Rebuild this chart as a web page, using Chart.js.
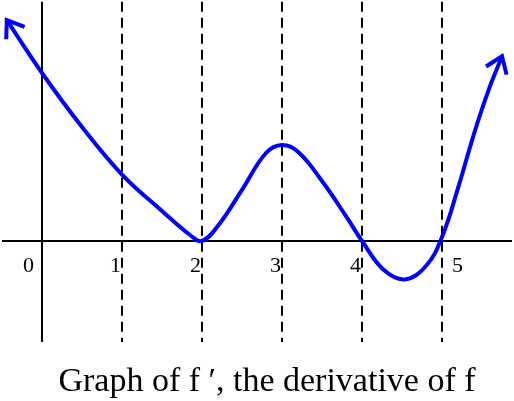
<!DOCTYPE html>
<html>
<head>
<meta charset="utf-8">
<script src="https://cdn.jsdelivr.net/npm/chart.js@4"></script>
<style>
html,body{margin:0;padding:0;background:#fff;}
#c{display:block;}
</style>
</head>
<body>
<canvas id="c" width="514" height="401" style="width:514px;height:401px"></canvas>
<script>
// ---- data ----
const xValues = [-0.44, 0, 0.5, 1.0, 1.5, 1.85, 2.0, 2.2, 2.5, 2.8, 3.0, 3.2, 3.5, 3.8, 4.0, 4.27, 4.54, 4.81, 5.0, 5.2, 5.4, 5.58, 5.75];
const fPrime  = [2.76, 2.10, 1.425, 0.83, 0.376, 0.075, 0, 0.19, 0.64, 1.10, 1.20, 1.115, 0.75, 0.31, 0, -0.36, -0.48, -0.30, 0.05, 0.66, 1.34, 1.88, 2.31];
const tickValues = [0, 1, 2, 3, 4, 5];
const tickLabels = ['0', '1', '2', '3', '4', '5'];
const dashedAt = [1, 2, 3, 4, 5];
const axisExtentX = [-0.5, 5.875];
const axisExtentY = [-1.2625, 2.99];
const caption = 'Graph of f \u2032, the derivative of f';

const points = xValues.map((x, i) => ({x: x, y: fPrime[i]}));

const axesPlugin = {
  id: 'axesPlugin',
  beforeDatasetsDraw(chart) {
    const ctx = chart.ctx, xs = chart.scales.x, ys = chart.scales.y;
    ctx.save();
    ctx.strokeStyle = '#000';
    ctx.lineWidth = 2;
    // x axis
    ctx.beginPath();
    ctx.moveTo(xs.getPixelForValue(axisExtentX[0]), ys.getPixelForValue(0));
    ctx.lineTo(xs.getPixelForValue(axisExtentX[1]), ys.getPixelForValue(0));
    ctx.stroke();
    // y axis
    ctx.beginPath();
    ctx.moveTo(xs.getPixelForValue(0), ys.getPixelForValue(axisExtentY[1]));
    ctx.lineTo(xs.getPixelForValue(0), ys.getPixelForValue(axisExtentY[0]));
    ctx.stroke();
    // dashed verticals
    ctx.setLineDash([10, 6]);
    dashedAt.forEach(v => {
      const px = Math.round(xs.getPixelForValue(v));
      ctx.beginPath();
      ctx.moveTo(px, ys.getPixelForValue(axisExtentY[1]));
      ctx.lineTo(px, ys.getPixelForValue(axisExtentY[0]));
      ctx.stroke();
    });
    ctx.setLineDash([]);
    // tick labels
    ctx.fillStyle = '#000';
    ctx.font = '22px "Liberation Serif", "DejaVu Serif", serif';
    ctx.textBaseline = 'alphabetic';
    const by = ys.getPixelForValue(0) + 31;
    tickValues.forEach((v, i) => {
      const px = xs.getPixelForValue(v);
      if (i === tickValues.length - 1) {
        ctx.textAlign = 'left';
        ctx.fillText(tickLabels[i], px + 10, by);
      } else if (v === 0) {
        ctx.textAlign = 'right';
        ctx.fillText(tickLabels[i], px - 8, by);
      } else {
        ctx.textAlign = 'right';
        ctx.fillText(tickLabels[i], px - 1, by);
      }
    });
    // caption
    ctx.textAlign = 'center';
    ctx.font = '34px "Liberation Serif", "DejaVu Serif", serif';
    ctx.fillText(caption, chart.width / 2 + 10, 391);
    ctx.restore();
  },
  afterDatasetsDraw(chart) {
    const meta = chart.getDatasetMeta(0);
    const pts = meta.data;
    const ctx = chart.ctx;
    const drawHead = (tip, prev) => {
      const dx = prev.x - tip.x, dy = prev.y - tip.y;
      const a = Math.atan2(dy, dx);
      const len = 19, spread = 0.62;
      ctx.beginPath();
      ctx.moveTo(tip.x + len * Math.cos(a + spread), tip.y + len * Math.sin(a + spread));
      ctx.lineTo(tip.x, tip.y);
      ctx.lineTo(tip.x + len * Math.cos(a - spread), tip.y + len * Math.sin(a - spread));
      ctx.stroke();
    };
    ctx.save();
    ctx.strokeStyle = '#0000ff';
    ctx.lineWidth = 4;
    ctx.lineJoin = 'miter';
    ctx.lineCap = 'butt';
    drawHead(pts[0], pts[1]);
    drawHead(pts[pts.length - 1], pts[pts.length - 2]);
    ctx.restore();
  }
};

new Chart(document.getElementById('c'), {
  type: 'scatter',
  data: {
    datasets: [{
      data: points,
      showLine: true,
      borderColor: '#0000ff',
      borderWidth: 4,
      pointRadius: 0,
      tension: 0.4,
      fill: false
    }]
  },
  options: {
    responsive: false,
    animation: false,
    devicePixelRatio: 1,
    layout: {padding: 0},
    plugins: {legend: {display: false}, tooltip: {enabled: false}, title: {display: false}},
    scales: {
      x: {type: 'linear', display: false, min: -0.525, max: 5.9},
      y: {type: 'linear', display: false, min: -2.0, max: 3.0125}
    }
  },
  plugins: [axesPlugin]
});
</script>
</body>
</html>
